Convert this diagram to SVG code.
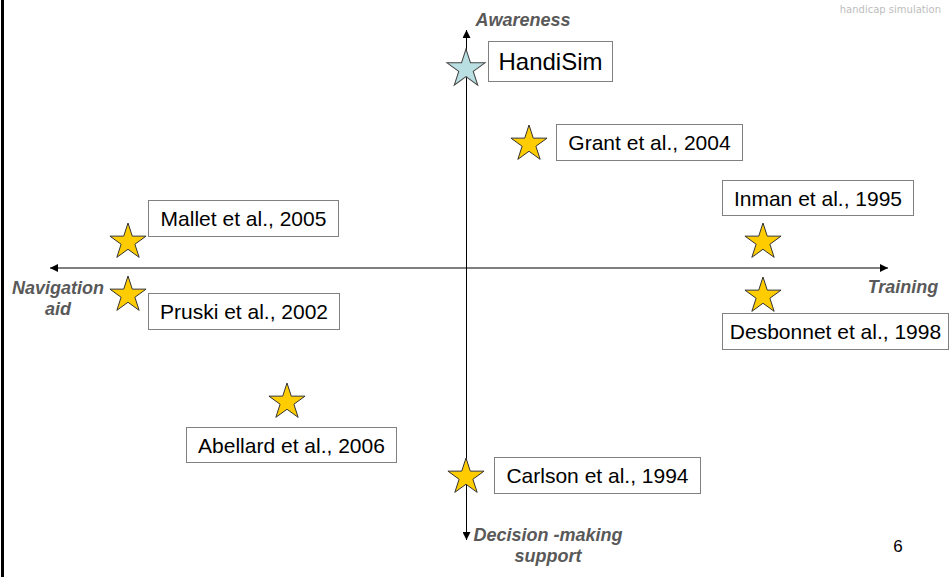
<svg xmlns="http://www.w3.org/2000/svg" xmlns:xlink="http://www.w3.org/1999/xlink" width="950" height="577" viewBox="0 0 950 577">
<style>
.box{fill:#fff;stroke:#808080;stroke-width:1}
.cite{font-family:"Liberation Sans",Arial,sans-serif;font-size:21px;fill:#000;text-anchor:middle}
.axlab{font-family:"Liberation Sans",Arial,sans-serif;font-size:18px;font-weight:bold;font-style:italic;fill:#595959;text-anchor:middle}
.axis{stroke:#000;stroke-width:1;fill:none}
.gold{fill:#FFCC00;stroke:#333;stroke-width:1}
.cyan{fill:#B9DFE2;stroke:#444;stroke-width:1}
</style>
<defs>
<path id="star" d="M0,-19 L4.27,-5.87 L18.07,-5.87 L6.9,2.24 L11.17,15.37 L0,7.26 L-11.17,15.37 L-6.9,2.24 L-18.07,-5.87 L-4.27,-5.87 Z"/>
<marker id="arr" viewBox="0 0 10 10" refX="10" refY="5" markerWidth="8" markerHeight="8" markerUnits="userSpaceOnUse" orient="auto">
<path d="M0,0 L10,5 L0,10 Z" fill="#000"/>
</marker>
</defs>
<rect x="0" y="0" width="950" height="577" fill="#fff"/>
<rect x="1" y="0" width="3" height="577" fill="#000"/>
<text x="941" y="13" font-family="'DejaVu Sans',sans-serif" font-size="10" fill="#bdbdbd" text-anchor="end">handicap simulation</text>

<g id="connectors">
<line class="axis" x1="466.5" y1="268" x2="50" y2="268" marker-end="url(#arr)"/>
<line class="axis" x1="466.5" y1="268" x2="888" y2="268" marker-end="url(#arr)"/>
<line class="axis" x1="466.5" y1="268" x2="466.5" y2="30" marker-end="url(#arr)"/>
<line class="axis" x1="466.5" y1="268" x2="466.5" y2="540" marker-end="url(#arr)"/>
</g>

<g id="axis-labels">
<text class="axlab" x="523" y="26">Awareness</text>
<text class="axlab" x="903" y="293">Training</text>
<text class="axlab" x="58" y="294">Navigation</text>
<text class="axlab" x="58" y="315">aid</text>
<text class="axlab" x="548" y="541">Decision -making</text>
<text class="axlab" x="548" y="562">support</text>
</g>

<g id="handisim">
<use href="#star" x="466" y="69" class="cyan" transform="translate(466,69) scale(1.05) translate(-466,-69)"/>
<rect class="box" x="488.5" y="41.5" width="124" height="40"/>
<text class="cite" x="550.5" y="70" style="font-size:24px">HandiSim</text>
</g>

<g id="grant">
<use href="#star" x="529" y="144" class="gold"/>
<rect class="box" x="556.5" y="124.5" width="186" height="36"/>
<text class="cite" x="649.5" y="150">Grant et al., 2004</text>
</g>

<g id="inman">
<use href="#star" x="763" y="242" class="gold"/>
<rect class="box" x="722.5" y="180.5" width="191" height="35"/>
<text class="cite" x="818" y="206">Inman et al., 1995</text>
</g>

<g id="desbonnet">
<use href="#star" x="763" y="296" class="gold"/>
<rect class="box" x="722.5" y="313.5" width="226" height="36"/>
<text class="cite" x="835.5" y="339">Desbonnet et al., 1998</text>
</g>

<g id="mallet">
<use href="#star" x="128" y="242" class="gold"/>
<rect class="box" x="148.5" y="200.5" width="190" height="36"/>
<text class="cite" x="243.5" y="226">Mallet et al., 2005</text>
</g>

<g id="pruski">
<use href="#star" x="128" y="295" class="gold"/>
<rect class="box" x="148.5" y="293.5" width="191" height="36"/>
<text class="cite" x="244" y="319">Pruski et al., 2002</text>
</g>

<g id="abellard">
<use href="#star" x="287" y="402" class="gold"/>
<rect class="box" x="186.5" y="427.5" width="210" height="35"/>
<text class="cite" x="291.5" y="453">Abellard et al., 2006</text>
</g>

<g id="carlson">
<use href="#star" x="466" y="477" class="gold"/>
<rect class="box" x="494.5" y="457.5" width="206" height="36"/>
<text class="cite" x="597.5" y="483">Carlson et al., 1994</text>
</g>

<text x="898" y="552" font-family="'Liberation Sans',Arial,sans-serif" font-size="17" fill="#000" text-anchor="middle">6</text>
</svg>
